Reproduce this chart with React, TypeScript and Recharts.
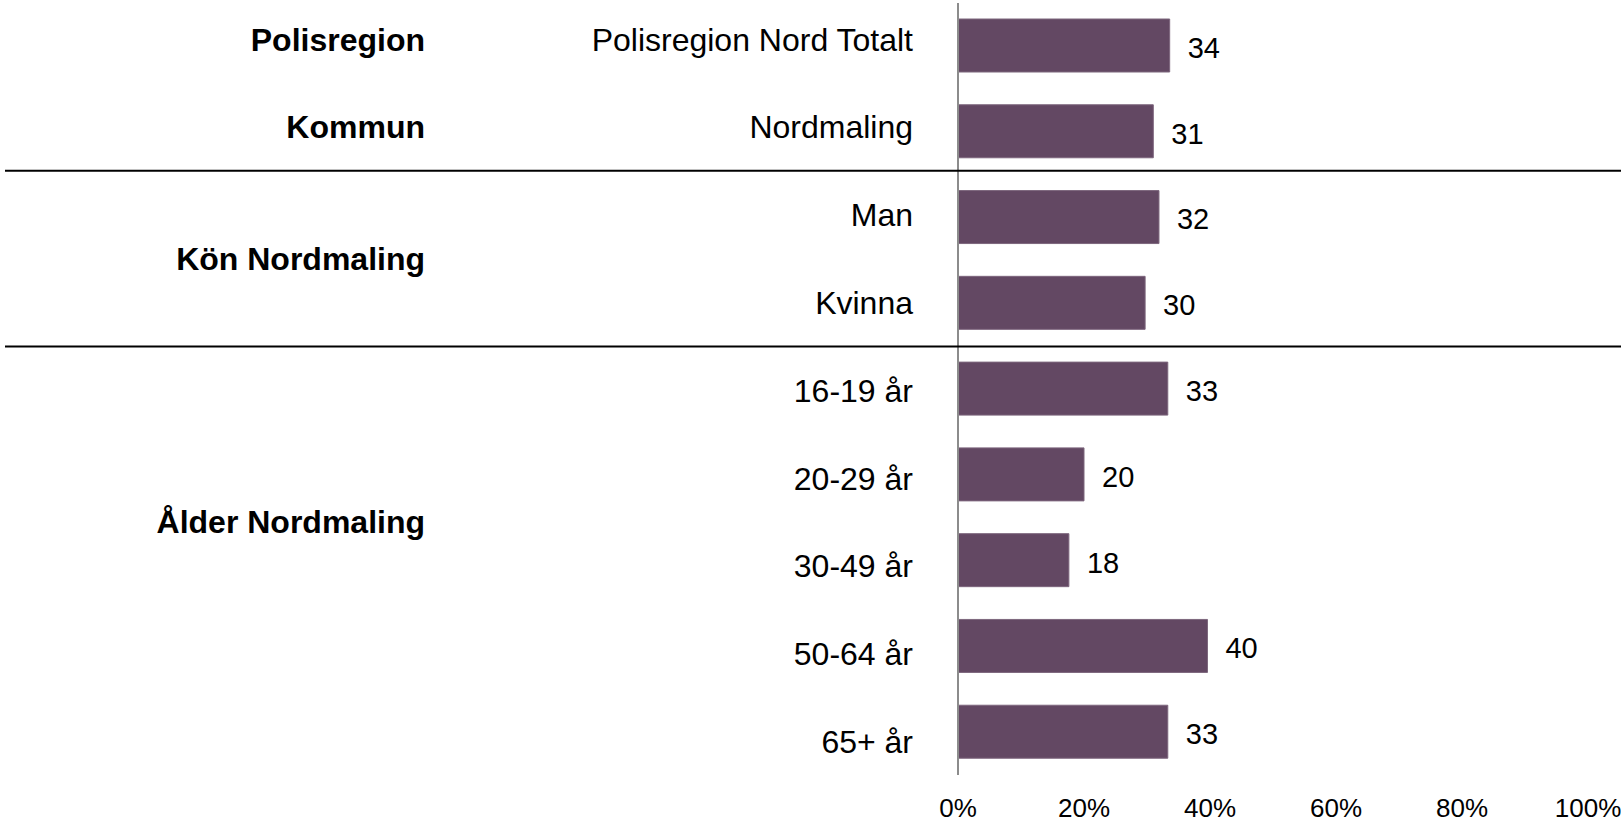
import React from 'react';
import { BarChart, Bar, XAxis, YAxis, LabelList } from 'recharts';

const categories = [
  'Polisregion Nord Totalt',
  'Nordmaling',
  'Man',
  'Kvinna',
  '16-19 år',
  '20-29 år',
  '30-49 år',
  '50-64 år',
  '65+ år',
];
const values = [33.6, 31.0, 31.9, 29.7, 33.3, 20.0, 17.6, 39.6, 33.3];
const xTicks = [0, 20, 40, 60, 80, 100];
const groupLabels = ['Polisregion', 'Kommun', 'Kön Nordmaling', 'Ålder Nordmaling'];
const groupLabelRows = [0, 1, 2.5, 5.5];
const separatorAfterRows = [1.5, 3.5];

const CHART_W = 1621;
const CHART_H = 823;
const MARGIN_TOP = 3;
const X_AXIS_H = 48;
const Y_AXIS_W = 958;
const PLOT_H = CHART_H - MARGIN_TOP - X_AXIS_H;
const BAND = PLOT_H / categories.length;
const LABEL_STEP = BAND + 2;
const FONT = "'Liberation Sans', Arial, sans-serif";
const LABEL_FS = 32;
const CAP_SHIFT = LABEL_FS * 0.358;

const data = categories.map((name, i) => ({ name, value: values[i] }));

function CategoryTick(props: any) {
  const { x, y, payload, index } = props;
  const labelY = y - 6.7 + 2 * index;
  const items: React.ReactNode[] = [];
  items.push(
    <text key="c" x={x - 45} y={labelY + CAP_SHIFT} textAnchor="end" fontSize={LABEL_FS} fontFamily={FONT} fill="#000">
      {payload.value}
    </text>
  );
  groupLabelRows.forEach((row, g) => {
    if (Math.floor(row) === index) {
      items.push(
        <text key={'g' + g} x={425} y={labelY + (row - index) * LABEL_STEP + CAP_SHIFT} textAnchor="end" fontSize={LABEL_FS} fontWeight="bold" fontFamily={FONT} fill="#000">
          {groupLabels[g]}
        </text>
      );
    }
  });
  separatorAfterRows.forEach((row, s) => {
    if (Math.floor(row) === index) {
      const ly = labelY + (row - index) * LABEL_STEP;
      items.push(<line key={'s' + s} x1={5} x2={CHART_W} y1={ly} y2={ly} stroke="#000" strokeWidth={2} />);
    }
  });
  return <g>{items}</g>;
}

function ValueLabel(props: any) {
  const { x, y, width, height, value } = props;
  return (
    <text x={x + width + 18} y={y + height / 2 + 2 + 29 * 0.358} textAnchor="start" fontSize={29} fontFamily={FONT} fill="#000">
      {Math.round(Number(value))}
    </text>
  );
}

export default function App() {
  return (
    <div style={{ position: 'absolute', left: 0, top: 0, width: CHART_W, height: CHART_H, background: '#fff' }}>
      <BarChart
        width={CHART_W}
        height={CHART_H}
        data={data}
        layout="vertical"
        margin={{ top: MARGIN_TOP, right: 33, bottom: 0, left: 0 }}
      >
        <XAxis
          type="number"
          domain={[0, 100]}
          ticks={xTicks}
          tickFormatter={(v: number) => `${v}%`}
          axisLine={false}
          tickLine={false}
          tickSize={0}
          tickMargin={24}
          height={X_AXIS_H}
          tick={{ fontSize: 26, fill: '#000', fontFamily: FONT }}
        />
        <YAxis
          type="category"
          dataKey="name"
          width={Y_AXIS_W}
          axisLine={{ stroke: '#8c8c8c', strokeWidth: 2 }}
          tickLine={false}
          tickSize={0}
          tickMargin={0}
          interval={0}
          tick={(p: any) => <CategoryTick {...p} />}
        />
        <Bar dataKey="value" fill="#634863" stroke="#7d667d" strokeWidth={1} barSize={53} isAnimationActive={false}>
          <LabelList dataKey="value" content={(p: any) => <ValueLabel {...p} />} />
        </Bar>
      </BarChart>
    </div>
  );
}
